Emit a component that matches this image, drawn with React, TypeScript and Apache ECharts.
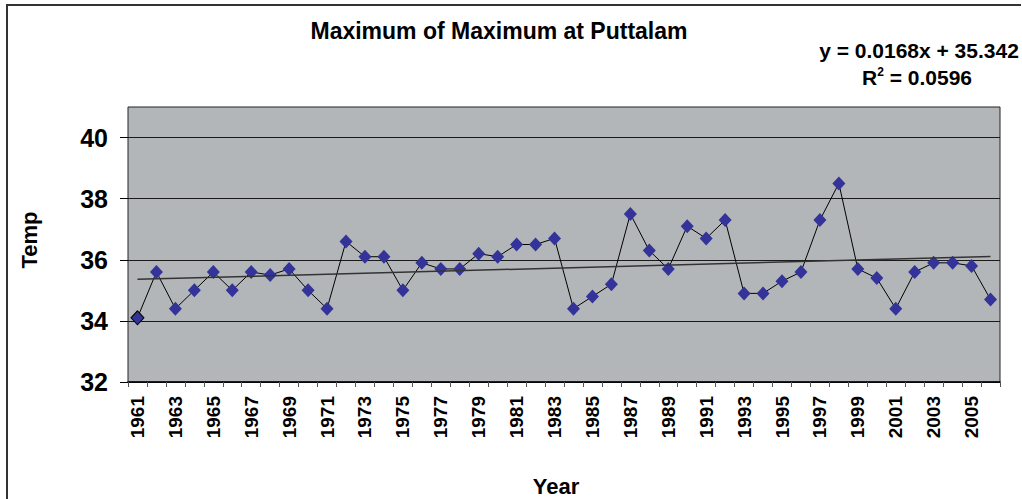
import React, { useEffect, useRef } from "react";
import * as echarts from "echarts";

const YEARS: string[] = [];
for (let y = 1961; y <= 2006; y++) YEARS.push(String(y));

const TEMPS: number[] = [
  34.1, 35.6, 34.4, 35.0, 35.6, 35.0, 35.6, 35.5, 35.7, 35.0,
  34.4, 36.6, 36.1, 36.1, 35.0, 35.9, 35.7, 35.7, 36.2, 36.1,
  36.5, 36.5, 36.7, 34.4, 34.8, 35.2, 37.5, 36.3, 35.7, 37.1,
  36.7, 37.3, 34.9, 34.9, 35.3, 35.6, 37.3, 38.5, 35.7, 35.4,
  34.4, 35.6, 35.9, 35.9, 35.8, 34.7,
];

const Y_TICKS: number[] = [32, 34, 36, 38, 40];
const TREND_START = 35.36;
const TREND_END = 36.11;

const TITLE = "Maximum of Maximum at Puttalam";
const EQUATION = "y = 0.0168x + 35.342";
const R2_VALUE = "0.0596";

const FONT = "'Liberation Sans', Arial, Helvetica, sans-serif";

export default function App() {
  const ref = useRef<HTMLDivElement>(null);
  useEffect(() => {
    document.body.style.margin = "0";
    if (!ref.current) return;
    const chart = echarts.init(ref.current, undefined, { renderer: "svg" });
    const data = TEMPS.map((v, i) =>
      i === 0
        ? { value: v, itemStyle: { borderColor: "#000", borderWidth: 1 } }
        : { value: v }
    );
    chart.setOption({
      animation: false,
      backgroundColor: "#fff",
      textStyle: { fontFamily: FONT },
      title: {
        text: TITLE,
        left: 494,
        textAlign: "center",
        top: 14,
        textStyle: { fontFamily: FONT, fontSize: 23, fontWeight: "bold", color: "#000" },
      },
      grid: {
        left: 128,
        right: 22,
        top: 107,
        bottom: 117,
        show: true,
        backgroundColor: "#B3B6B8",
        borderColor: "#222",
        borderWidth: 1,
      },
      xAxis: {
        type: "category",
        data: YEARS,
        boundaryGap: true,
        axisLine: { show: true, lineStyle: { color: "#000", width: 1.5 } },
        axisTick: { show: true, interval: 0, length: 5, lineStyle: { color: "#555" } },
        axisLabel: {
          interval: 1,
          rotate: 90,
          margin: 14,
          fontSize: 19,
          fontWeight: "bold",
          color: "#000",
          fontFamily: FONT,
        },
        splitLine: { show: false },
      },
      yAxis: {
        type: "value",
        min: 32,
        max: 41,
        interval: 2,
        axisLine: { show: false },
        axisTick: {
          show: true,
          length: 8,
          customValues: Y_TICKS,
          lineStyle: { color: "#000" },
        },
        axisLabel: {
          customValues: Y_TICKS,
          margin: 20,
          fontSize: 25,
          fontWeight: "bold",
          color: "#000",
          fontFamily: FONT,
        },
        splitLine: { show: true, lineStyle: { color: "#1a1a1a", width: 1 } },
      },
      series: [
        {
          type: "line",
          data,
          symbol: "diamond",
          symbolSize: [13, 14],
          showSymbol: true,
          showAllSymbol: true,
          itemStyle: { color: "#333399" },
          lineStyle: { color: "#000", width: 1 },
          z: 3,
          markLine: {
            silent: true,
            symbol: "none",
            label: { show: false },
            lineStyle: { color: "#333", width: 1.5, type: "solid" },
            data: [
              [
                { coord: [0, TREND_START] },
                { coord: [YEARS.length - 1, TREND_END] },
              ],
            ],
          },
        },
      ],
      graphic: [
        {
          type: "polyline",
          shape: { points: [[7, 499], [7, 5], [1021, 5]] },
          style: { stroke: "#333", lineWidth: 2, fill: "none" },
          silent: true,
        },
        {
          type: "text",
          x: 919,
          y: 50,
          style: {
            text: EQUATION,
            fontFamily: FONT,
            fontSize: 21,
            fontWeight: "bold",
            fill: "#000",
            align: "center",
            verticalAlign: "middle",
          },
        },
        {
          type: "text",
          x: 917,
          y: 77,
          style: {
            text: "{r|R}{s|2}{r| = " + R2_VALUE + "}",
            fontFamily: FONT,
            fontWeight: "bold",
            fill: "#000",
            align: "center",
            verticalAlign: "middle",
            rich: {
              r: { fontSize: 21, fontWeight: "bold", fontFamily: FONT, fill: "#000" },
              s: {
                fontSize: 12,
                fontWeight: "bold",
                fontFamily: FONT,
                fill: "#000",
                verticalAlign: "top",
                padding: [0, 0, 10, 0],
              },
            },
          },
        },
        {
          type: "text",
          x: 29,
          y: 240,
          rotation: Math.PI / 2,
          style: {
            text: "Temp",
            fontFamily: FONT,
            fontSize: 22,
            fontWeight: "bold",
            fill: "#000",
            align: "center",
            verticalAlign: "middle",
          },
        },
        {
          type: "text",
          x: 556,
          y: 486,
          style: {
            text: "Year",
            fontFamily: FONT,
            fontSize: 22,
            fontWeight: "bold",
            fill: "#000",
            align: "center",
            verticalAlign: "middle",
          },
        },
      ],
    });
    return () => chart.dispose();
  }, []);
  return <div ref={ref} style={{ width: 1022, height: 499 }} />;
}
